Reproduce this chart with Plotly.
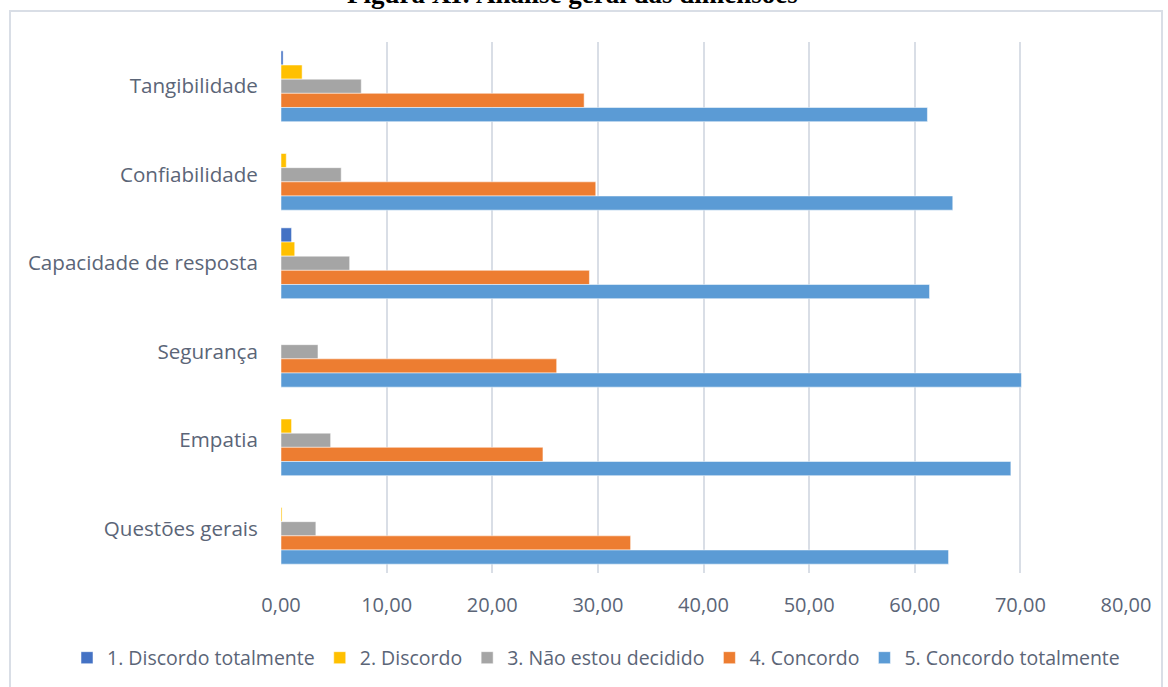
import plotly.graph_objects as go

categories = ["Tangibilidade", "Confiabilidade", "Capacidade de resposta",
              "Segurança", "Empatia", "Questões gerais"]
series_names = ["1. Discordo totalmente", "2. Discordo", "3. Não estou decidido",
                "4. Concordo", "5. Concordo totalmente"]
discordo_totalmente = [0.2, 0.0, 1.0, 0.0, 0.0, 0.0]
discordo = [2.0, 0.5, 1.3, 0.0, 1.0, 0.1]
nao_decidido = [7.6, 5.7, 6.5, 3.5, 4.7, 3.3]
concordo = [28.7, 29.8, 29.2, 26.1, 24.8, 33.1]
concordo_totalmente = [61.2, 63.6, 61.4, 70.1, 69.1, 63.2]
series_values = [discordo_totalmente, discordo, nao_decidido, concordo, concordo_totalmente]
colors = ["#4472C4", "#FFC000", "#A5A5A5", "#ED7D31", "#5B9BD5"]
x_ticks = [0, 10, 20, 30, 40, 50, 60, 70, 80]

W, H = 1168, 687
L, R, T, B = 281, 42, 42, 114
pw, ph = W - L - R, H - T - B
TXT = "#5B6577"

fig = go.Figure()
for name, vals, c in zip(series_names, series_values, colors):
    fig.add_trace(go.Bar(
        y=categories, x=vals, name=name, orientation="h",
        marker=dict(color=c, line=dict(color="rgba(255,255,255,0.5)", width=1)),
    ))

def px_x(p):
    return (p - L) / pw

def px_y(p):
    return (H - B - p) / ph

fig.update_layout(
    width=W, height=H,
    margin=dict(l=L, r=R, t=T, b=B, autoexpand=False),
    paper_bgcolor="white", plot_bgcolor="white",
    barmode="group", bargap=0.2, bargroupgap=0,
    separators=",.",
    font=dict(family="Open Sans, sans-serif", size=19, color=TXT),
    xaxis=dict(range=[0, 80], tickvals=x_ticks, tickformat=".2f",
               showgrid=True, gridcolor="#D9DEE6", gridwidth=2,
               zeroline=False, showline=False,
               ticks="outside", ticklen=14, tickcolor="rgba(0,0,0,0)",
               tickfont=dict(size=20, color=TXT)),
    yaxis=dict(autorange="reversed", showgrid=False, showline=False,
               ticks="outside", ticklen=18, tickcolor="rgba(0,0,0,0)",
               tickfont=dict(size=20.6, color=TXT)),
    legend=dict(orientation="h", x=px_x(67), xanchor="left",
                y=px_y(658), yanchor="middle",
                font=dict(size=19.5, color=TXT), traceorder="normal",
                itemwidth=30, tracegroupgap=0),
    showlegend=True,
    shapes=[dict(type="rect", xref="paper", yref="paper",
                 x0=px_x(10), x1=px_x(1162), y0=px_y(700), y1=px_y(11),
                 line=dict(color="#D9DEE6", width=2), fillcolor="rgba(0,0,0,0)",
                 layer="below")],
    annotations=[dict(text="<b>Figura XI: Análise geral das dimensões</b>",
                      xref="paper", yref="paper", x=px_x(572), y=px_y(11),
                      xanchor="center", yanchor="bottom", showarrow=False,
                      font=dict(family="Liberation Serif, Times New Roman, serif",
                                size=27, color="black"))],
)

fig.write_html("out.html")
